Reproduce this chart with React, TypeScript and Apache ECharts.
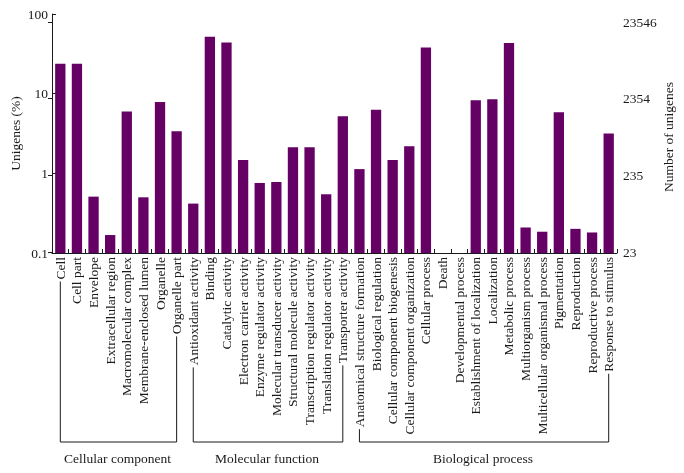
import React, { useEffect, useRef } from "react";
import * as echarts from "echarts";

const categories = [
  "Cell",
  "Cell part",
  "Envelope",
  "Extracellular region",
  "Macromolecular complex",
  "Membrane-enclosed lumen",
  "Organelle",
  "Organelle part",
  "Antioxidant activity",
  "Binding",
  "Catalytic activity",
  "Electron carrier activity",
  "Enzyme regulator activity",
  "Molecular transducer activity",
  "Structural molecule activity",
  "Transcription regulator activity",
  "Translation regulator activity",
  "Transporter activity",
  "Anatomical structure formation",
  "Biological regulation",
  "Cellular component biogenesis",
  "Cellular component organization",
  "Cellular process",
  "Death",
  "Developmental process",
  "Establishment of localization",
  "Localization",
  "Metabolic process",
  "Multiorganism process",
  "Multicellular organismal process",
  "Pigmentation",
  "Reproduction",
  "Reproductive process",
  "Response to stimulus",
];

const unigenesPercent: (number | null)[] = [
  23.7, 23.7, 0.51, 0.168, 5.96, 0.5, 7.85, 3.38,
  0.417, 52, 43.8, 1.47, 0.757, 0.778, 2.13, 2.13, 0.546, 5.2,
  1.13, 6.3, 1.47, 2.19, 37.9, null, null, 8.25, 8.49, 43.4, 0.209, 0.185,
  5.84, 0.201, 0.181, 3.16,
];

const groupNames = ["Cellular component", "Molecular function", "Biological process"];
const groupStart = [0, 8, 18];
const groupEnd = [7, 17, 33];

const leftTickMin = 0.1;
const leftTickMax = 100;
const rightTickLabels = ["23", "235", "2354", "23546"];

const FONT = '"Liberation Serif", "Times New Roman", serif';
const FS = 13.5;
const BAR = "#650065";
const INK = "#1a1a1a";

export default function App() {
  const ref = useRef<HTMLDivElement>(null);

  useEffect(() => {
    if (!ref.current) return;
    const chart = echarts.init(ref.current, null, { renderer: "svg" });

    const baseValues = unigenesPercent.map((v) => (v == null ? null : leftTickMin));
    const barValues = unigenesPercent.map((v) => (v == null ? null : v - leftTickMin));

    const gridBottomY = 253;
    const labelMargin = 4;

    chart.setOption({
      animation: false,
      grid: [
        { left: 52, right: 67, top: 14, bottom: 473 - gridBottomY, outerBoundsMode: "none", containLabel: false },
        { left: 52, right: 67, top: 22, bottom: 473 - 252, outerBoundsMode: "none", containLabel: false },
      ],
      xAxis: [
        {
          type: "category",
          gridIndex: 0,
          data: categories,
          axisLine: { show: true, lineStyle: { color: INK, width: 1 } },
          axisTick: { show: true, inside: true, length: 4, lineStyle: { color: INK } },
          axisLabel: {
            interval: 0,
            rotate: 90,
            margin: labelMargin,
            color: INK,
            fontFamily: FONT,
            fontSize: FS,
          },
          splitLine: { show: false },
        },
        { type: "value", gridIndex: 1, show: false, min: 0, max: 1 },
      ],
      yAxis: [
        {
          type: "log",
          gridIndex: 0,
          logBase: 10,
          min: leftTickMin,
          max: leftTickMax,
          name: "Unigenes (%)",
          nameLocation: "middle",
          nameGap: 30,
          nameMoveOverlap: false,
          nameTextStyle: { color: INK, fontFamily: FONT, fontSize: FS },
          axisLine: { show: true, lineStyle: { color: INK, width: 1 } },
          axisTick: { show: true, inside: true, length: 4, lineStyle: { color: INK } },
          axisLabel: { color: INK, fontFamily: FONT, fontSize: FS, margin: 4 },
          splitLine: { show: false },
          minorTick: { show: false },
        },
        {
          type: "value",
          gridIndex: 1,
          position: "right",
          min: 0,
          max: rightTickLabels.length - 1,
          interval: 1,
          name: "Number of unigenes",
          nameLocation: "middle",
          nameGap: 44,
          nameMoveOverlap: false,
          nameRotate: 90,
          nameTextStyle: { color: INK, fontFamily: FONT, fontSize: FS },
          axisLine: { show: true, lineStyle: { color: INK, width: 1 } },
          axisTick: { show: true, inside: true, length: 4, lineStyle: { color: INK } },
          axisLabel: {
            color: INK,
            fontFamily: FONT,
            fontSize: FS,
            margin: 6,
            formatter: (v: number) => rightTickLabels[Math.round(v)] ?? "",
          },
          splitLine: { show: false },
        },
      ],
      series: [
        {
          type: "bar",
          xAxisIndex: 0,
          yAxisIndex: 0,
          stack: "go",
          data: baseValues,
          barCategoryGap: "38%",
          itemStyle: { color: "rgba(0,0,0,0)" },
          silent: true,
        },
        {
          type: "bar",
          xAxisIndex: 0,
          yAxisIndex: 0,
          stack: "go",
          data: barValues,
          barCategoryGap: "38%",
          itemStyle: { color: BAR },
        },
      ],
    });

    // group brackets under the category labels
    const canvas = document.createElement("canvas");
    const ctx = canvas.getContext("2d")!;
    ctx.font = `${FS}px ${FONT}`;
    const bracketY = 442;
    const graphics: any[] = [];
    groupNames.forEach((name, g) => {
      const a = categories[groupStart[g]];
      const b = categories[groupEnd[g]];
      const x1 = chart.convertToPixel({ xAxisIndex: 0 }, a) as number;
      const x2 = chart.convertToPixel({ xAxisIndex: 0 }, b) as number;
      const y1 = gridBottomY + labelMargin + ctx.measureText(a).width + 2;
      const y2 = gridBottomY + labelMargin + ctx.measureText(b).width + 2;
      graphics.push({
        type: "polyline",
        shape: {
          points: [
            [x1, y1],
            [x1, bracketY],
            [x2, bracketY],
            [x2, y2],
          ],
        },
        style: { stroke: INK, lineWidth: 1, fill: null },
        silent: true,
      });
      graphics.push({
        type: "text",
        x: (x1 + x2) / 2 - 1,
        y: 458,
        style: {
          text: name,
          fill: INK,
          font: `${FS}px ${FONT}`,
          align: "center",
          verticalAlign: "middle",
        },
        silent: true,
      });
    });
    chart.setOption({ graphic: graphics });

    return () => chart.dispose();
  }, []);

  return (
    <div
      ref={ref}
      style={{ position: "fixed", left: 0, top: 0, width: 684, height: 473 }}
    />
  );
}
